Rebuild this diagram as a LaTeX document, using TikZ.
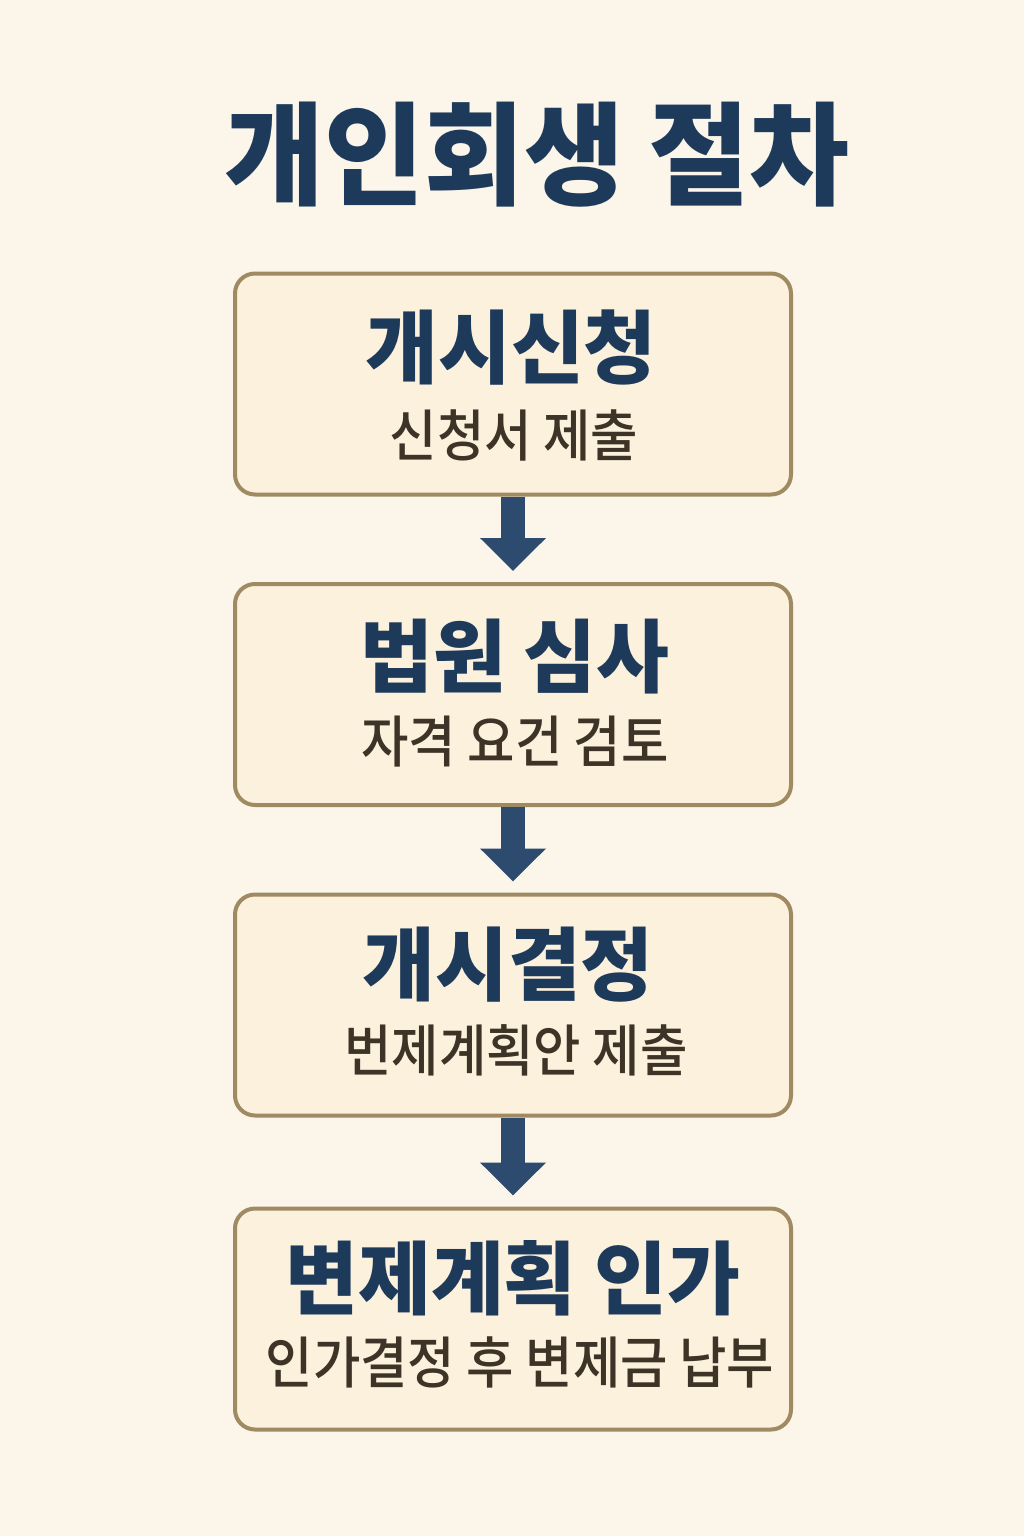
\documentclass[tikz,border=0pt]{standalone}
\usepackage{fontspec}
\usetikzlibrary{arrows.meta}
\newfontfamily\titlefont[FakeStretch=0.97]{Noto Sans CJK KR Black}
\newfontfamily\headfont[FakeStretch=0.99]{Noto Sans CJK KR Black}
\newfontfamily\subfont[FakeStretch=0.92]{Noto Sans CJK KR Medium}
\definecolor{bg}{HTML}{FBF5EA}
\definecolor{boxfill}{HTML}{FCF1DC}
\definecolor{boxline}{HTML}{A08A62}
\definecolor{navy}{HTML}{1E3A5A}
\definecolor{arrowc}{HTML}{2C4B6E}
\definecolor{brown}{HTML}{3D3326}
\tikzset{
  stepbox/.style={draw=boxline, line width=4pt, fill=boxfill, rounded corners=20pt,
    minimum width=556pt, minimum height=221pt, inner sep=0pt},
  headtxt/.style={text=navy, font=\headfont\fontsize{80}{90}\selectfont, inner sep=0pt},
  subtxt/.style={text=brown, font=\subfont\fontsize{56}{64}\selectfont, inner sep=0pt},
  flow/.style={draw=arrowc, line width=24pt, -{Triangle[width=64pt,length=33pt]}, shorten >=11pt}
}
\begin{document}
\begin{tikzpicture}[x=1pt,y=-1pt]
\fill[bg] (0,0) rectangle (1024,1536);
\useasboundingbox (0,0) rectangle (1024,1536);
\node[text=navy, font=\titlefont\fontsize{112}{120}\selectfont, inner sep=0pt] (title) at (537,155) {개인회생 절차};
\node[stepbox] (b1) at (513,384) {};
\node[stepbox] (b2) at (513,694.5) {};
\node[stepbox] (b3) at (513,1005) {};
\node[stepbox] (b4) at (513,1319) {};
\node[headtxt] (h1) at (511,348) {개시신청};
\node[subtxt] (s1) at (514,435) {신청서 제출};
\node[headtxt] (h2) at (515,657) {법원 심사};
\node[subtxt] (s2) at (515,742) {자격 요건 검토};
\node[headtxt] (h3) at (508,965) {개시결정};
\node[subtxt] (s3) at (516,1050) {번제계획안 제출};
\node[headtxt] (h4) at (513,1278) {변제계획 인가};
\node[subtxt] (s4) at (520,1362) {인가결정 후 변제금 납부};
\draw[flow] (b1.south) -- (b2.north);
\draw[flow] (b2.south) -- (b3.north);
\draw[flow] (b3.south) -- (b4.north);
\end{tikzpicture}
\end{document}
